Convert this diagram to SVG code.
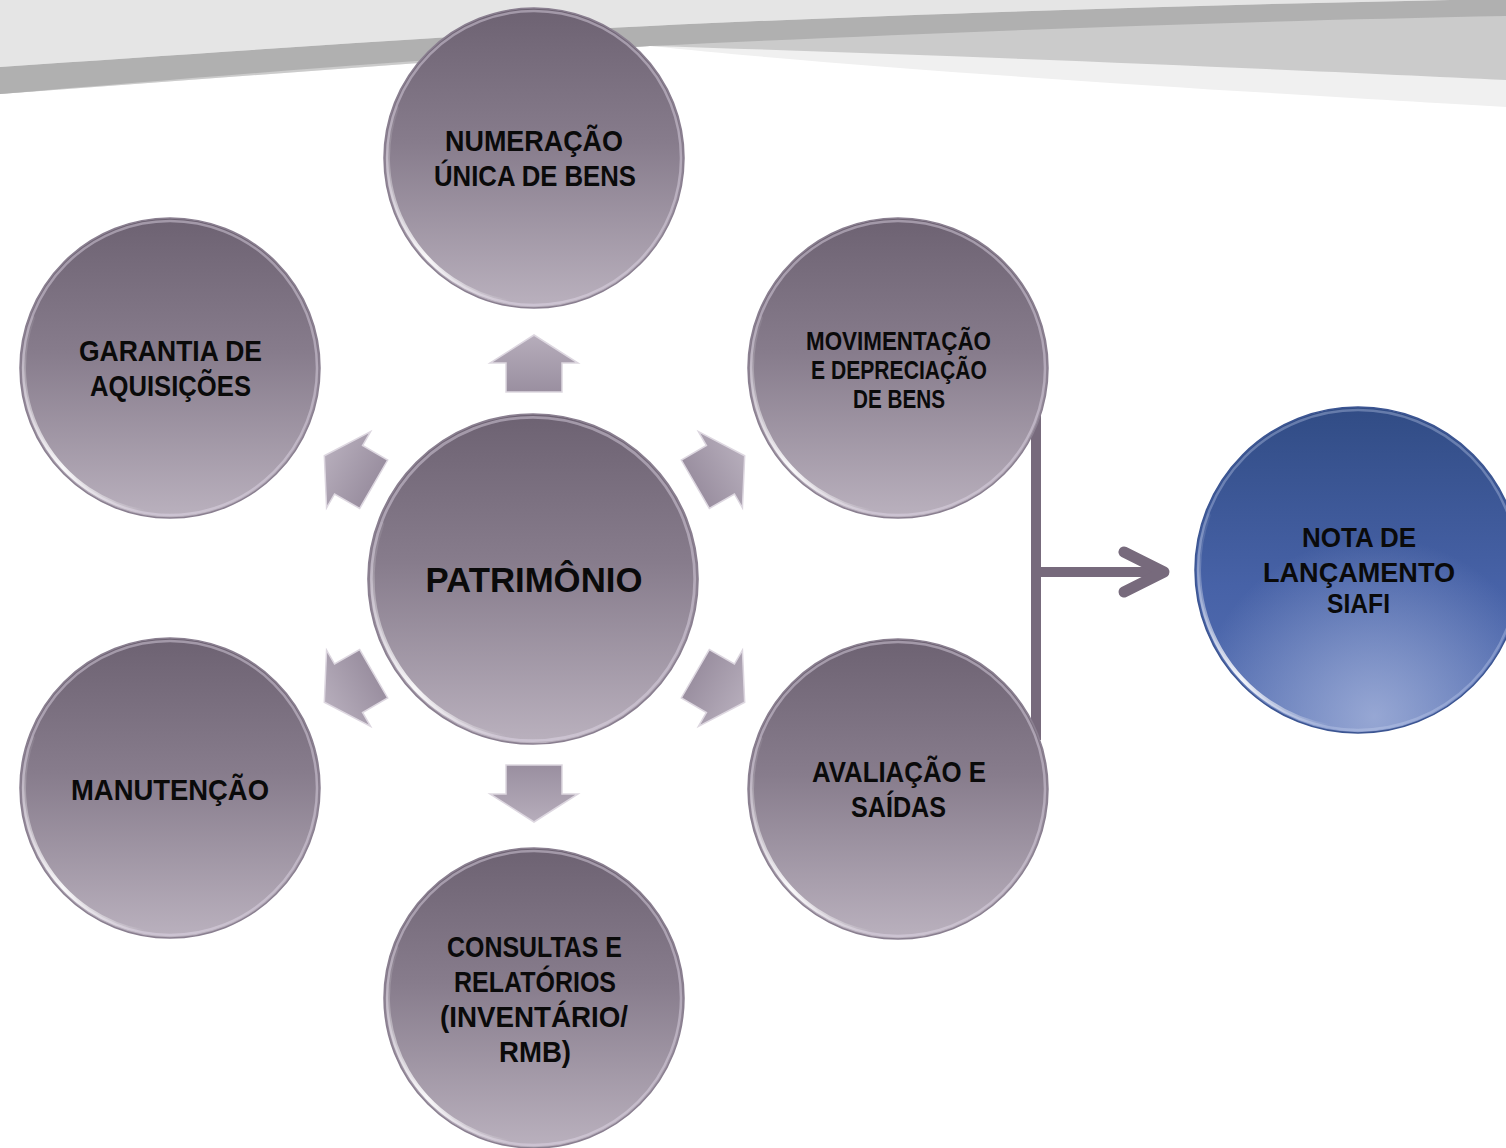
<svg xmlns="http://www.w3.org/2000/svg" xmlns:xlink="http://www.w3.org/1999/xlink" width="1506" height="1148" viewBox="0 0 1506 1148">
<style>
  .t { font-family: "Liberation Sans", Arial, sans-serif; font-weight: 700; fill: #0a0a0a; text-anchor: middle; }
  .big { font-size: 30px; }
  .mid { font-size: 25.5px; }
  .nota { font-size: 27px; }
  .ctr { font-size: 35px; }
  .blk { fill: url(#gArrow); stroke: #ddd7e0; stroke-width: 1.5; stroke-linejoin: miter; }
  .conn { stroke: #776a7c; fill: none; }
</style>
<defs>
  <linearGradient id="gGray" x1="0" y1="0" x2="0" y2="1">
    <stop offset="0" stop-color="#6d6272"/>
    <stop offset="0.45" stop-color="#877c8c"/>
    <stop offset="1" stop-color="#bab1be"/>
  </linearGradient>
  <linearGradient id="gBlue" x1="0" y1="0" x2="0" y2="1">
    <stop offset="0" stop-color="#314c85"/>
    <stop offset="0.55" stop-color="#4762a7"/>
    <stop offset="1" stop-color="#5670b3"/>
  </linearGradient>
  <radialGradient id="gBlueGlow" cx="0.55" cy="0.95" r="0.55">
    <stop offset="0" stop-color="#a7b5dc" stop-opacity="0.8"/>
    <stop offset="1" stop-color="#a7b5dc" stop-opacity="0"/>
  </radialGradient>
  <linearGradient id="gHi" x1="1" y1="1" x2="0" y2="0">
    <stop offset="0" stop-color="#ffffff" stop-opacity="0"/>
    <stop offset="0.45" stop-color="#ffffff" stop-opacity="0.9"/>
    <stop offset="1" stop-color="#ffffff" stop-opacity="0"/>
  </linearGradient>
  <linearGradient id="gArrow" x1="0" y1="0" x2="0" y2="1">
    <stop offset="0" stop-color="#b6adbb"/>
    <stop offset="1" stop-color="#9a8fa0"/>
  </linearGradient>
  <g id="ballGray">
    <circle r="150" fill="url(#gGray)"/>
    <circle r="147" fill="none" stroke="#e4dcea" stroke-opacity="0.45" stroke-width="2.5"/>
    <path d="M-25.4,143.8 A146,146 0 0 1 -137.2,-49.9" fill="none" stroke="url(#gHi)" stroke-width="4" stroke-linecap="round"/>
    <circle r="150" fill="none" stroke="#8a7f90" stroke-width="1.5"/>
  </g>
  <path id="blockArrow" d="M0,-28.5 L44,-0.5 L28,-0.5 L28,28.5 L-28,28.5 L-28,-0.5 L-44,-0.5 Z"/>
</defs>

<rect width="1506" height="1148" fill="#ffffff"/>

<g id="banner">
  <path d="M0,0 H1506 V107 C1300,95 900,72 650,46 L0,94 Z" fill="#f0f0f0"/>
  <path d="M0,0 H1506 V80 C1300,70 950,55 650,46 L0,94 Z" fill="#cbcbcb"/>
  <path d="M0,67 C250,50 500,33 650,26 C900,14 1200,5 1450,0 L1506,0 V16 C1200,22 950,32 650,46 C450,57 250,73 0,94 Z" fill="#b0b0b0"/>
  <path d="M0,0 L1450,0 C1200,5 900,14 650,26 C500,33 250,50 0,67 Z" fill="#e5e5e5"/>
</g>

<g id="connectors">
  <line class="conn" x1="1036" y1="405" x2="1036" y2="740" stroke-width="10"/>
  <line class="conn" x1="1036" y1="572" x2="1160" y2="572" stroke-width="10"/>
  <polyline class="conn" points="1124,552 1164,572 1124,592" stroke-width="11" stroke-linecap="round" stroke-linejoin="round"/>
  <use xlink:href="#blockArrow" class="blk" transform="translate(534,363.5)"/>
  <use xlink:href="#blockArrow" class="blk" transform="translate(534,793.5) rotate(180)"/>
  <use xlink:href="#blockArrow" class="blk" transform="translate(349,470) rotate(-60)"/>
  <use xlink:href="#blockArrow" class="blk" transform="translate(720,470) rotate(60)"/>
  <use xlink:href="#blockArrow" class="blk" transform="translate(349,688) rotate(-120)"/>
  <use xlink:href="#blockArrow" class="blk" transform="translate(720,688) rotate(120)"/>
</g>

<g id="node-numeracao">
  <use xlink:href="#ballGray" transform="translate(534,158)"/>
  <text class="t big" x="534" y="151" textLength="178" lengthAdjust="spacingAndGlyphs">NUMERAÇÃO</text>
  <text class="t big" x="535" y="186" textLength="202" lengthAdjust="spacingAndGlyphs">ÚNICA DE BENS</text>
</g>

<g id="node-garantia">
  <use xlink:href="#ballGray" transform="translate(170,368)"/>
  <text class="t big" x="170.5" y="361" textLength="183" lengthAdjust="spacingAndGlyphs">GARANTIA DE</text>
  <text class="t big" x="170.5" y="396" textLength="161" lengthAdjust="spacingAndGlyphs">AQUISIÇÕES</text>
</g>

<g id="node-movimentacao">
  <use xlink:href="#ballGray" transform="translate(898,368)"/>
  <text class="t mid" x="898.5" y="350" textLength="185" lengthAdjust="spacingAndGlyphs">MOVIMENTAÇÃO</text>
  <text class="t mid" x="899" y="379" textLength="176" lengthAdjust="spacingAndGlyphs">E DEPRECIAÇÃO</text>
  <text class="t mid" x="899" y="408" textLength="92" lengthAdjust="spacingAndGlyphs">DE BENS</text>
</g>

<g id="node-patrimonio">
  <use xlink:href="#ballGray" transform="translate(533,579) scale(1.1)"/>
  <text class="t ctr" x="534" y="592" textLength="217" lengthAdjust="spacingAndGlyphs">PATRIMÔNIO</text>
</g>

<g id="node-manutencao">
  <use xlink:href="#ballGray" transform="translate(170,788)"/>
  <text class="t big" x="170" y="800" textLength="198" lengthAdjust="spacingAndGlyphs">MANUTENÇÃO</text>
</g>

<g id="node-avaliacao">
  <use xlink:href="#ballGray" transform="translate(898,789)"/>
  <text class="t big" x="899" y="782" textLength="174" lengthAdjust="spacingAndGlyphs">AVALIAÇÃO E</text>
  <text class="t big" x="898.5" y="817" textLength="95" lengthAdjust="spacingAndGlyphs">SAÍDAS</text>
</g>

<g id="node-consultas">
  <use xlink:href="#ballGray" transform="translate(534,998)"/>
  <text class="t big" x="534.5" y="957" textLength="175" lengthAdjust="spacingAndGlyphs">CONSULTAS E</text>
  <text class="t big" x="535" y="992" textLength="162" lengthAdjust="spacingAndGlyphs">RELATÓRIOS</text>
  <text class="t big" x="534" y="1027" textLength="188" lengthAdjust="spacingAndGlyphs">(INVENTÁRIO/</text>
  <text class="t big" x="535" y="1062" textLength="72" lengthAdjust="spacingAndGlyphs">RMB)</text>
</g>

<g id="node-nota">
  <circle cx="1358" cy="570" r="163" fill="url(#gBlue)"/>
  <circle cx="1358" cy="570" r="163" fill="url(#gBlueGlow)"/>
  <circle cx="1358" cy="570" r="160" fill="none" stroke="#c9d3f0" stroke-opacity="0.35" stroke-width="2.5"/>
  <path d="M1330.5,726.5 A159,159 0 0 1 1208.6,515.6" fill="none" stroke="url(#gHi)" stroke-width="4" stroke-linecap="round"/>
  <circle cx="1358" cy="570" r="163" fill="none" stroke="#3c5592" stroke-width="1.5"/>
  <text class="t nota" x="1359" y="547" textLength="114" lengthAdjust="spacingAndGlyphs">NOTA DE</text>
  <text class="t nota" x="1359" y="582" textLength="192" lengthAdjust="spacingAndGlyphs">LANÇAMENTO</text>
  <text class="t nota" x="1358.5" y="613" textLength="63" lengthAdjust="spacingAndGlyphs">SIAFI</text>
</g>
</svg>
